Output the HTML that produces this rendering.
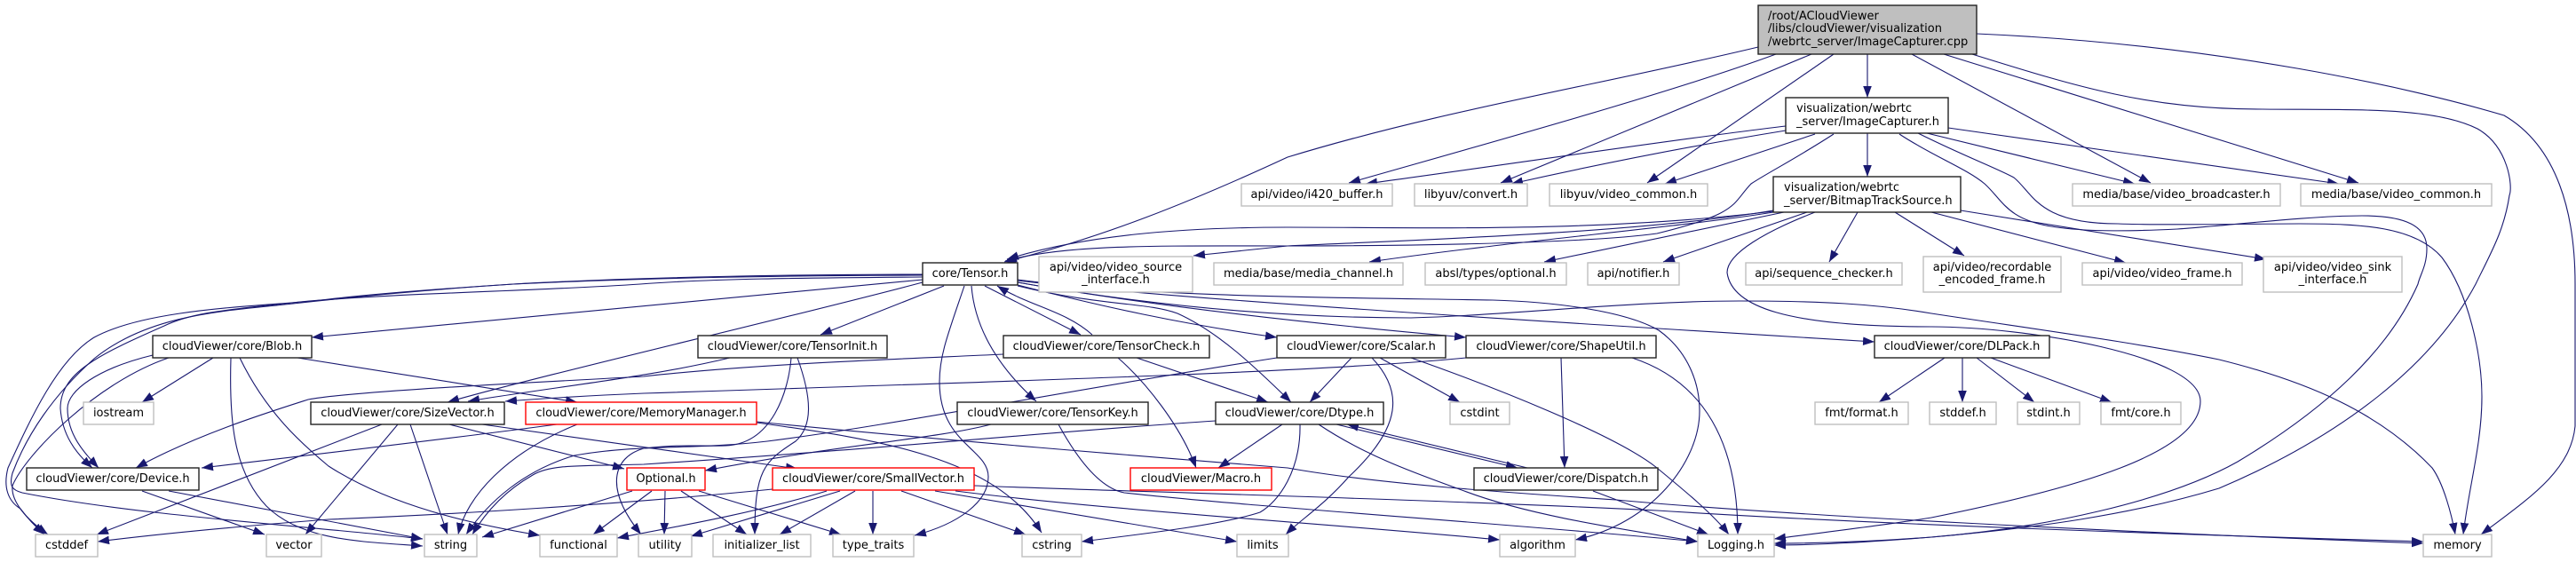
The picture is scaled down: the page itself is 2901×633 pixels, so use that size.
<!DOCTYPE html>
<html><head><meta charset="utf-8"><title>ImageCapturer.cpp include graph</title>
<style>
html,body{margin:0;padding:0;background:#fff}
svg{display:block}
text{font-family:"DejaVu Sans","Liberation Sans",sans-serif;font-size:13px;fill:#000}
.k rect{fill:#fff;stroke:#222;stroke-width:1.4}
.g rect{fill:#fff;stroke:#bfbfbf;stroke-width:1.4}
.r rect{fill:#fff;stroke:#f00;stroke-width:1.4}
.m text{text-anchor:middle}
</style></head><body>
<svg width="2901" height="633" viewBox="0 0 2901 633" xmlns="http://www.w3.org/2000/svg">
<defs><marker id="a" markerWidth="14" markerHeight="10" refX="13" refY="5" orient="auto" markerUnits="userSpaceOnUse"><polygon points="0,0.2 13,5 0,9.8" fill="#191970"/></marker></defs>
<g fill="none" stroke="#191970" stroke-width="1.1" marker-end="url(#a)">
<path d="M1980,53C1800,96 1620,125 1450,177C1340,228 1240,268 1131,295"/>
<path d="M2000,61C1880,105 1680,160 1519,206"/>
<path d="M2040,61L1690,206"/>
<path d="M2065,61L1855,206"/>
<path d="M2103,61L2103,110"/>
<path d="M2153,61L2422,206"/>
<path d="M2189,61L2656,206"/>
<path d="M2221,61C2340,98 2420,123 2548,123C2650,124 2740,120 2790,145C2825,165 2830,210 2826,220C2820,260 2805,285 2788,320C2740,410 2640,490 2499,550C2400,580 2290,595 2175,605C2110,610 2050,614 1998,614"/>
<path d="M2226,38C2500,50 2720,100 2820,130C2880,165 2900,240 2900,320C2900,400 2900,470 2900,480C2895,530 2850,560 2794,602"/>
<path d="M2065,151C2020,180 1990,195 1972,207C1950,230 1960,240 1866,263C1780,275 1550,277 1450,277C1300,277 1200,275 1132,294"/>
<path d="M2011,142C1900,155 1700,185 1538,207"/>
<path d="M2011,147C1900,165 1800,185 1702,207"/>
<path d="M2044,151L1875,207"/>
<path d="M2103,150L2103,199"/>
<path d="M2170,150L2404,207"/>
<path d="M2194,144L2634,207"/>
<path d="M2139,151C2175,175 2215,190 2235,207C2255,225 2260,247 2310,255C2350,262 2410,260 2452,258C2510,254 2600,243 2660,243C2710,243 2733,255 2733,280C2733,300 2725,310 2723,320C2690,395 2620,460 2520,520C2440,565 2300,595 2175,605C2110,610 2050,612 1998,612"/>
<path d="M2160,150C2210,175 2250,190 2268,200C2290,218 2295,252 2385,252C2430,254 2540,252 2590,252C2660,252 2720,255 2750,290C2780,330 2795,400 2795,447C2795,500 2780,550 2774,602"/>
<path d="M1997,238C1800,262 1600,256 1450,256C1330,256 1220,265 1134,292"/>
<path d="M1997,237C1850,262 1600,270 1450,277L1344,288"/>
<path d="M1997,239C1900,255 1700,272 1542,295"/>
<path d="M2009,239L1739,295"/>
<path d="M2035,239L1873,295"/>
<path d="M2092,239L2060,295"/>
<path d="M2134,239L2212,288"/>
<path d="M2175,239L2394,296"/>
<path d="M2208,237L2552,292"/>
<path d="M2044,239C1990,260 1945,285 1945,307C1950,345 2010,368 2175,368C2280,368 2478,400 2478,452C2478,510 2340,550 2175,583C2120,592 2050,600 1998,607"/>
<path d="M1039,315L351,380"/>
<path d="M1039,318C900,355 600,425 504,453"/>
<path d="M1039,309C900,309 720,312 578,320C500,325 430,330 370,337C310,345 170,345 106,380C65,405 35,470 9,527C3,550 10,565 23,573C32,585 42,595 50,602"/>
<path d="M1039,312C900,313 800,314 721,320C600,328 450,330 338,340C270,348 220,350 185,367C110,400 68,420 68,460C70,490 85,510 104,527"/>
<path d="M1039,310C900,310 720,313 578,320C500,325 420,332 330,342C260,350 170,352 106,404C60,445 30,490 14,533C10,548 14,552 25,555C150,580 340,592 476,607"/>
<path d="M1063,322L924,377"/>
<path d="M1109,322L1217,377"/>
<path d="M1094,322C1097,360 1115,405 1167,452"/>
<path d="M1086,322C1068,375 1058,400 1058,430C1058,500 1113,505 1113,537C1113,565 1080,590 1030,603"/>
<path d="M1146,321C1240,345 1330,365 1438,380"/>
<path d="M1146,322C1240,345 1290,340 1326,353C1375,375 1420,420 1454,453"/>
<path d="M1146,318C1300,345 1480,365 1651,380"/>
<path d="M1146,316C1300,335 1700,360 2111,385"/>
<path d="M1146,315C1300,335 1500,335 1681,338C1750,340 1830,350 1868,372C1900,395 1914,430 1914,463C1914,520 1860,590 1774,608"/>
<path d="M1146,318C1300,345 1450,358 1589,358C1700,355 1840,339 1959,339C2050,339 2110,342 2175,353C2300,372 2400,385 2499,405C2600,430 2680,465 2739,527C2752,545 2761,580 2765,602"/>
<path d="M1230,377C1200,350 1160,345 1123,322"/>
<path d="M1130,399C1000,405 850,410 725,424C620,430 400,440 347,450C300,465 220,490 153,527"/>
<path d="M1280,403L1428,453"/>
<path d="M1259,403C1290,430 1330,480 1347,527"/>
<path d="M822,403C730,425 630,435 527,452"/>
<path d="M891,403C888,440 870,500 817,502C785,503 770,500 725,505C690,515 680,550 722,602"/>
<path d="M898,403C915,450 915,480 896,497C860,520 850,530 850,602"/>
<path d="M240,403L160,453"/>
<path d="M260,403C258,470 262,530 300,570C340,610 410,610 476,615"/>
<path d="M270,403C300,465 340,500 370,525C440,570 530,590 608,603"/>
<path d="M335,403L650,453"/>
<path d="M172,400C110,415 76,440 76,460C76,490 95,510 111,527"/>
<path d="M190,403C110,430 30,510 14,547C12,565 30,585 54,602"/>
<path d="M430,478L109,602"/>
<path d="M448,478L344,602"/>
<path d="M462,478L504,602"/>
<path d="M506,478L703,528"/>
<path d="M543,478L898,528"/>
<path d="M627,478C500,495 370,510 227,527"/>
<path d="M650,478C570,510 525,560 516,602"/>
<path d="M852,476C990,495 1120,515 1173,600"/>
<path d="M852,475C1050,495 1300,515 1450,527C1550,545 1700,555 1820,563C2000,580 2400,600 2729,612"/>
<path d="M1116,478C1050,495 950,500 794,530"/>
<path d="M1192,478C1215,520 1240,550 1266,555C1400,570 1700,590 1912,610"/>
<path d="M1369,474C1200,485 1000,505 725,523C650,525 620,523 600,535C565,555 545,580 532,602"/>
<path d="M1444,478L1372,527"/>
<path d="M1464,478C1465,530 1440,565 1419,577C1380,590 1300,600 1218,610"/>
<path d="M1485,478C1540,515 1600,535 1649,553C1720,580 1820,595 1912,610"/>
<path d="M1505,478L1709,527"/>
<path d="M1720,527L1517,478"/>
<path d="M1794,553L1924,602"/>
<path d="M1522,403L1475,453"/>
<path d="M1545,403C1580,440 1580,480 1519,537C1490,570 1465,585 1448,602"/>
<path d="M1554,403L1644,453"/>
<path d="M1589,403C1680,435 1820,490 1866,527C1900,555 1930,580 1947,602"/>
<path d="M1438,403C1200,440 1000,480 864,497C780,507 720,500 647,513C590,530 550,565 525,602"/>
<path d="M1651,403C1500,418 1190,428 725,443C650,446 610,449 569,452"/>
<path d="M1758,403L1762,527"/>
<path d="M1838,403C1920,430 1957,500 1957,602"/>
<path d="M2190,403L2116,453"/>
<path d="M2210,403L2210,453"/>
<path d="M2226,403L2291,453"/>
<path d="M2242,403L2378,453"/>
<path d="M160,553L298,602"/>
<path d="M190,553L476,607"/>
<path d="M712,553L543,605"/>
<path d="M734,553L668,602"/>
<path d="M749,553L748,602"/>
<path d="M767,553L841,602"/>
<path d="M787,553L947,602"/>
<path d="M870,551C700,568 500,580 370,585C280,592 190,600 110,610"/>
<path d="M931,553C860,575 780,590 695,606"/>
<path d="M946,553L778,604"/>
<path d="M963,553L878,602"/>
<path d="M983,553L983,602"/>
<path d="M1015,553L1155,602"/>
<path d="M1053,553L1393,610"/>
<path d="M1076,553C1250,575 1500,590 1689,608"/>
<path d="M1097,547C1250,553 1600,562 1866,575C2100,590 2450,602 2729,610"/>
</g>
<rect x="1980" y="6" width="246" height="55" fill="#bfbfbf" stroke="#222" stroke-width="1.4"/>
<text x="1991" y="22">/root/ACloudViewer</text>
<text x="1991" y="36">/libs/cloudViewer/visualization</text>
<text x="1991" y="51">/webrtc_server/ImageCapturer.cpp</text>
<g class="k">
<rect x="2011" y="110" width="183" height="40"/>
<rect x="1997" y="199" width="211" height="40"/>
<rect x="1039" y="296" width="107" height="25"/>
<rect x="172" y="378" width="179" height="25"/>
<rect x="786" y="378" width="213" height="25"/>
<rect x="1130" y="378" width="232" height="25"/>
<rect x="1438" y="378" width="190" height="25"/>
<rect x="1651" y="378" width="214" height="25"/>
<rect x="2111" y="378" width="197" height="25"/>
<rect x="350" y="453" width="218" height="25"/>
<rect x="1078" y="453" width="215" height="25"/>
<rect x="1369" y="453" width="189" height="25"/>
<rect x="30" y="527" width="194" height="25"/>
<rect x="1660" y="527" width="207" height="25"/>
</g>
<g class="g">
<rect x="1398" y="207" width="170" height="25"/>
<rect x="1593" y="207" width="127" height="25"/>
<rect x="1745" y="207" width="178" height="25"/>
<rect x="2334" y="207" width="234" height="25"/>
<rect x="2591" y="207" width="215" height="25"/>
<rect x="1170" y="289" width="173" height="40"/>
<rect x="1367" y="296" width="213" height="25"/>
<rect x="1605" y="296" width="159" height="25"/>
<rect x="1788" y="296" width="103" height="25"/>
<rect x="1966" y="296" width="176" height="25"/>
<rect x="2166" y="289" width="155" height="40"/>
<rect x="2345" y="296" width="180" height="25"/>
<rect x="2549" y="289" width="156" height="40"/>
<rect x="94" y="453" width="79" height="25"/>
<rect x="1633" y="453" width="67" height="25"/>
<rect x="2044" y="453" width="105" height="25"/>
<rect x="2173" y="453" width="75" height="25"/>
<rect x="2272" y="453" width="70" height="25"/>
<rect x="2366" y="453" width="90" height="25"/>
<rect x="40" y="602" width="70" height="25"/>
<rect x="300" y="602" width="62" height="25"/>
<rect x="478" y="602" width="59" height="25"/>
<rect x="608" y="602" width="87" height="25"/>
<rect x="719" y="602" width="60" height="25"/>
<rect x="803" y="602" width="110" height="25"/>
<rect x="938" y="602" width="91" height="25"/>
<rect x="1151" y="602" width="67" height="25"/>
<rect x="1393" y="602" width="58" height="25"/>
<rect x="1689" y="602" width="85" height="25"/>
<rect x="1912" y="602" width="86" height="25"/>
<rect x="2729" y="602" width="77" height="25"/>
</g>
<g class="r">
<rect x="592" y="453" width="260" height="25"/>
<rect x="706" y="527" width="88" height="25"/>
<rect x="870" y="527" width="227" height="25"/>
<rect x="1273" y="527" width="159" height="25"/>
</g>
<text x="2023" y="126">visualization/webrtc</text>
<text x="2023" y="141">_server/ImageCapturer.h</text>
<text x="2009" y="215">visualization/webrtc</text>
<text x="2009" y="230">_server/BitmapTrackSource.h</text>
<g class="m">
<text x="1483" y="223">api/video/i420_buffer.h</text>
<text x="1656.5" y="223">libyuv/convert.h</text>
<text x="1834" y="223">libyuv/video_common.h</text>
<text x="2451" y="223">media/base/video_broadcaster.h</text>
<text x="2698.5" y="223">media/base/video_common.h</text>
<text x="1092.5" y="312">core/Tensor.h</text>
<text x="1256.5" y="305">api/video/video_source</text>
<text x="1256.5" y="319">_interface.h</text>
<text x="1473.5" y="312">media/base/media_channel.h</text>
<text x="1684.5" y="312">absl/types/optional.h</text>
<text x="1839.5" y="312">api/notifier.h</text>
<text x="2054" y="312">api/sequence_checker.h</text>
<text x="2243.5" y="305">api/video/recordable</text>
<text x="2243.5" y="319">_encoded_frame.h</text>
<text x="2435" y="312">api/video/video_frame.h</text>
<text x="2627" y="305">api/video/video_sink</text>
<text x="2627" y="319">_interface.h</text>
<text x="261.5" y="394">cloudViewer/core/Blob.h</text>
<text x="892.5" y="394">cloudViewer/core/TensorInit.h</text>
<text x="1246" y="394">cloudViewer/core/TensorCheck.h</text>
<text x="1533" y="394">cloudViewer/core/Scalar.h</text>
<text x="1758" y="394">cloudViewer/core/ShapeUtil.h</text>
<text x="2209.5" y="394">cloudViewer/core/DLPack.h</text>
<text x="133.5" y="469">iostream</text>
<text x="459" y="469">cloudViewer/core/SizeVector.h</text>
<text x="722" y="469">cloudViewer/core/MemoryManager.h</text>
<text x="1185.5" y="469">cloudViewer/core/TensorKey.h</text>
<text x="1463.5" y="469">cloudViewer/core/Dtype.h</text>
<text x="1666.5" y="469">cstdint</text>
<text x="2096.5" y="469">fmt/format.h</text>
<text x="2210.5" y="469">stddef.h</text>
<text x="2307" y="469">stdint.h</text>
<text x="2411" y="469">fmt/core.h</text>
<text x="127" y="543">cloudViewer/core/Device.h</text>
<text x="750" y="543">Optional.h</text>
<text x="983.5" y="543">cloudViewer/core/SmallVector.h</text>
<text x="1352.5" y="543">cloudViewer/Macro.h</text>
<text x="1763.5" y="543">cloudViewer/core/Dispatch.h</text>
<text x="75" y="618">cstddef</text>
<text x="331" y="618">vector</text>
<text x="507.5" y="618">string</text>
<text x="651.5" y="618">functional</text>
<text x="749" y="618">utility</text>
<text x="858" y="618">initializer_list</text>
<text x="983.5" y="618">type_traits</text>
<text x="1184.5" y="618">cstring</text>
<text x="1422" y="618">limits</text>
<text x="1731.5" y="618">algorithm</text>
<text x="1955" y="618">Logging.h</text>
<text x="2767.5" y="618">memory</text>
</g>
</svg>
</body></html>
